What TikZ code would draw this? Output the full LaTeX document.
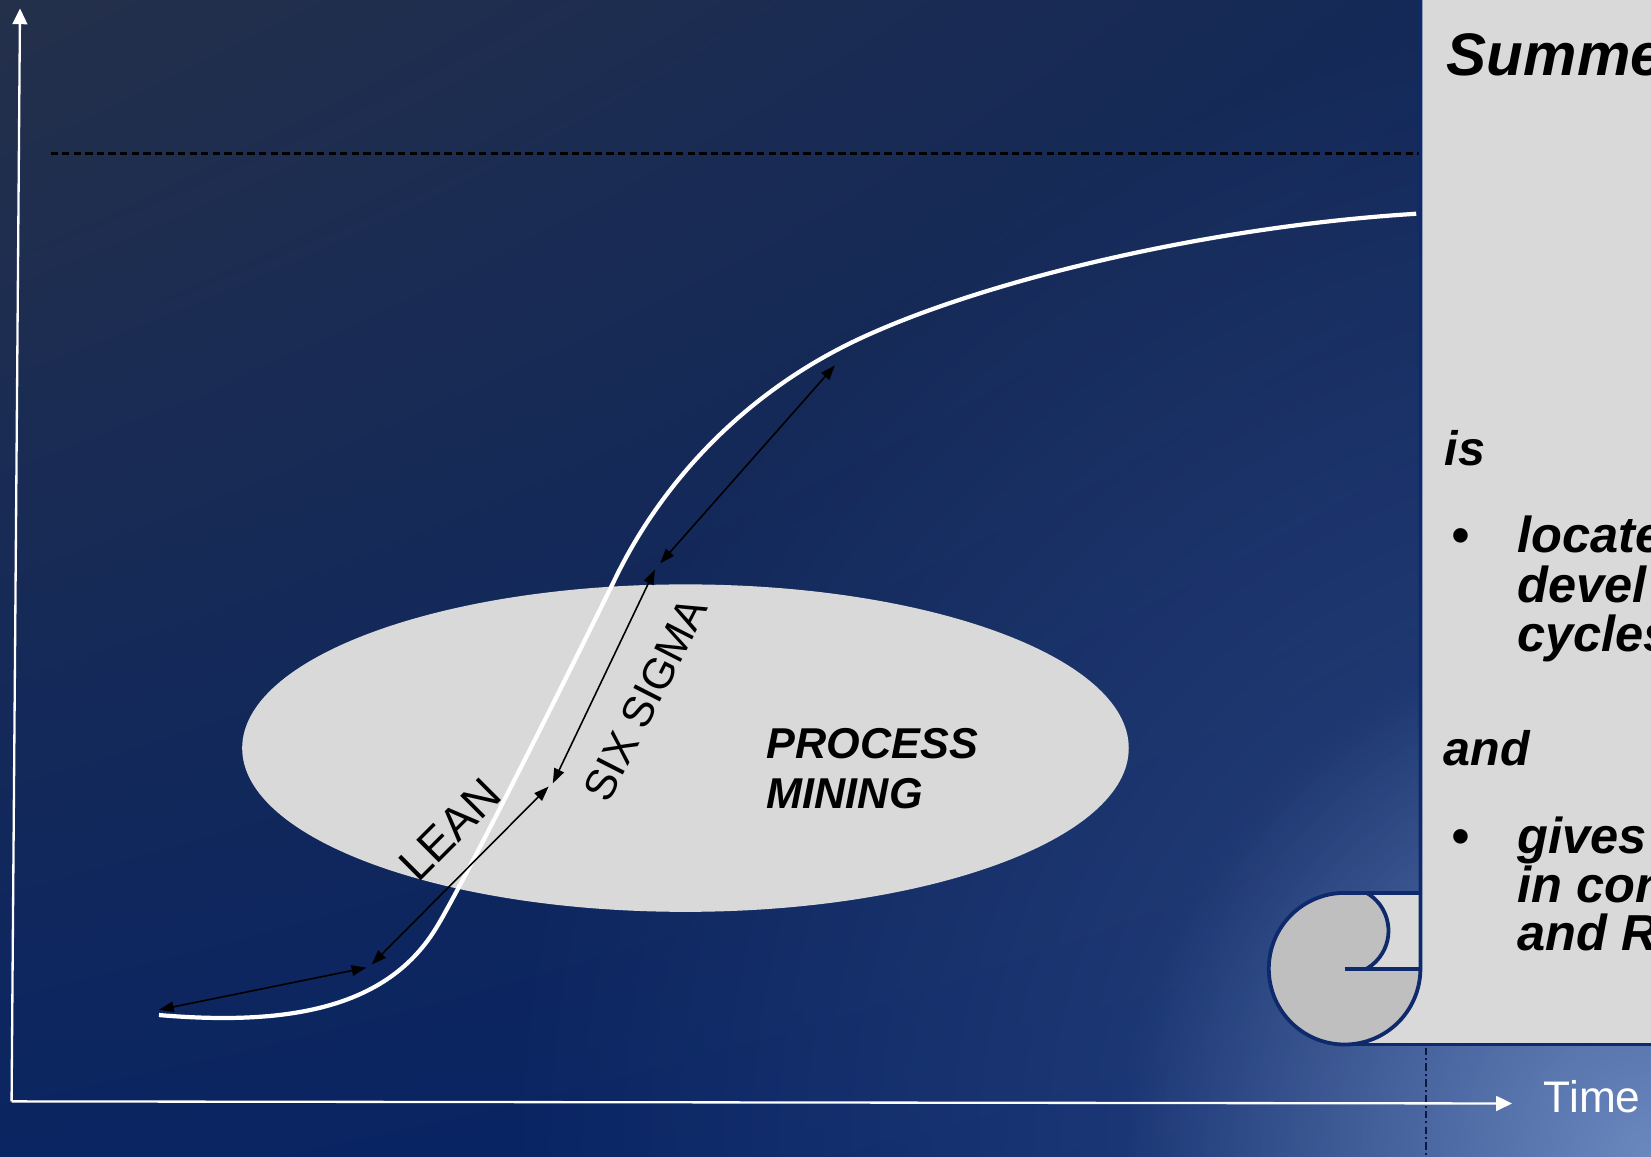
\documentclass[tikz,border=0pt]{standalone}
\usepackage{fontspec}
\setmainfont{Liberation Sans}
\usetikzlibrary{arrows.meta,fadings,shadings}
\definecolor{navyline}{HTML}{0E2A6C}
\definecolor{panelgray}{HTML}{D9D9D9}
\definecolor{scrollgray}{HTML}{BFBFBF}
\definecolor{ellgray}{HTML}{D9D9D9}
\definecolor{bgUL}{HTML}{24304A}
\definecolor{bgUR}{HTML}{12285A}
\definecolor{bgLL}{HTML}{0A2562}
\definecolor{bgLR}{HTML}{062264}
\definecolor{glowc}{HTML}{7693C9}
\definecolor{dashnavy}{HTML}{0A1A3C}
\tikzfading[name=glowfade, inner color=transparent!0, outer color=transparent!100]
\newcommand{\myfs}[1]{\fontsize{#1}{#1}\selectfont}
\begin{document}
\begin{tikzpicture}[x=1pt,y=-1pt,
  axisline/.style={white, line width=2.2pt},
  dimarrow/.style={black, line width=1.5pt, {Triangle[length=14pt,width=10pt]}-{Triangle[length=14pt,width=10pt]}},
  lbl/.style={inner sep=0pt, text=black},
  ptext/.style={inner sep=0pt, anchor=base west, text=black, font=\myfs{48}\bfseries\itshape},
  outline/.style={draw=navyline, line width=3.6pt}]
\useasboundingbox (0,0) rectangle (1568,1098);
\begin{scope}
\clip (0,0) rectangle (1568,1098);
% background
\shade[upper left=bgUL, upper right=bgUR, lower left=bgLL, lower right=bgLR] (0,0) rectangle (1568,1098);
\fill[glowc, fill opacity=0.32, path fading=glowfade] (1568,1098) circle[radius=1100];
\fill[glowc, fill opacity=0.85, path fading=glowfade] (1568,1098) circle[radius=500];
% dash-dot line below scroll
\coordinate (vd1) at (1354,995);
\coordinate (vd2) at (1354,1100);
\draw[dashnavy, line width=2pt, dash pattern=on 7pt off 3pt on 2pt off 3pt] (vd1) -- (vd2);
% axes
\coordinate (O) at (11,1046);
\coordinate (Ytip) at (19,8);
\coordinate (Xtip) at (1436,1048);
\draw[axisline, -{Triangle[length=15pt,width=14pt]}] (O) -- (Ytip);
\draw[axisline, -{Triangle[length=15pt,width=14pt]}] (O) -- (Xtip);
\node[anchor=base west, inner sep=0pt, text=white, font=\myfs{42}] (time) at (1466,1057) {Time};
% dashed limit line
\coordinate (d1) at (48,146);
\coordinate (d2) at (1348,146);
\draw[black, line width=2.6pt, dash pattern=on 7pt off 4pt] (d1) -- (d2);
% process mining ellipse
\fill[ellgray] (651,710.5) ellipse [x radius=421, y radius=155.5];
\node[anchor=base west, inner sep=0pt, font=\myfs{41}\bfseries\itshape] (pm1) at (728,720) {PROCESS};
\node[anchor=base west, inner sep=0pt, font=\myfs{41}\bfseries\itshape] (pm2) at (728,768) {MINING};
% S-curve
\coordinate (s0) at (151,964);
\coordinate (s1) at (415,880);
\coordinate (s2) at (585,548);
\coordinate (s3) at (820,320);
\coordinate (s4) at (1345,203);
\draw[white, line width=4pt] (s0) .. controls (280,975) and (370,955) .. (s1)
  .. controls (442,835) and (540,640) .. (s2)
  .. controls (625,466) and (700,375) .. (s3)
  .. controls (940,265) and (1150,215) .. (s4);
% dimension arrows
\coordinate (a1) at (151,959);
\coordinate (a2) at (348,919);
\coordinate (b1) at (353,916);
\coordinate (b2) at (521,747);
\coordinate (c1) at (525,744);
\coordinate (c2) at (622,541);
\coordinate (e1) at (627,535);
\coordinate (e2) at (793,347);
\draw[dimarrow] (a1) -- (a2);
\draw[dimarrow] (b1) -- (b2);
\draw[dimarrow] (c1) -- (c2);
\draw[dimarrow] (e1) -- (e2);
\node[lbl, rotate=45, font=\myfs{44}] (lean) at (427,788) {LEAN};
\node[lbl, rotate=63, font=\myfs{41}] (sixsigma) at (613,664) {SIX SIGMA};
% right panel (scroll)
\fill[panelgray] (1349,-5) -- (1349,848) -- (1277,848) -- (1277,992) -- (1575,992) -- (1575,-5) -- cycle;
\fill[scrollgray] (1349,920) arc[start angle=0, end angle=270, radius=72] -- (1298,848)
   arc[start angle=-59.7, end angle=59.7, radius=41.7] -- (1349,920) -- cycle;
\draw[outline] (1349,-5) -- (1349,920) arc[start angle=0, end angle=270, radius=72] -- (1349,848);
\draw[outline] (1298,848) arc[start angle=-59.7, end angle=59.7, radius=41.7];
\draw[outline] (1277,920) -- (1349,920);
\draw[outline] (1277,992) -- (1575,992);
% panel text
\node[ptext, font=\myfs{57}\bfseries\itshape] (title) at (1374,72) {Summe};
\node[ptext, font=\myfs{46}\bfseries\itshape] (is) at (1372,442) {is};
\node[ptext] (bul1) at (1378,525) {•};
\node[ptext] (l1) at (1441,525) {locate};
\node[ptext] (l2) at (1441,572) {devel};
\node[ptext] (l3) at (1441,619) {cycles};
\node[ptext, font=\myfs{46}\bfseries\itshape] (and1) at (1371,727) {and};
\node[ptext] (bul2) at (1378,811) {•};
\node[ptext] (g1) at (1441,811) {gives};
\node[ptext] (g2) at (1441,857) {in con};
\node[ptext] (g3) at (1441,903) {and R};
\end{scope}
\end{tikzpicture}
\end{document}
